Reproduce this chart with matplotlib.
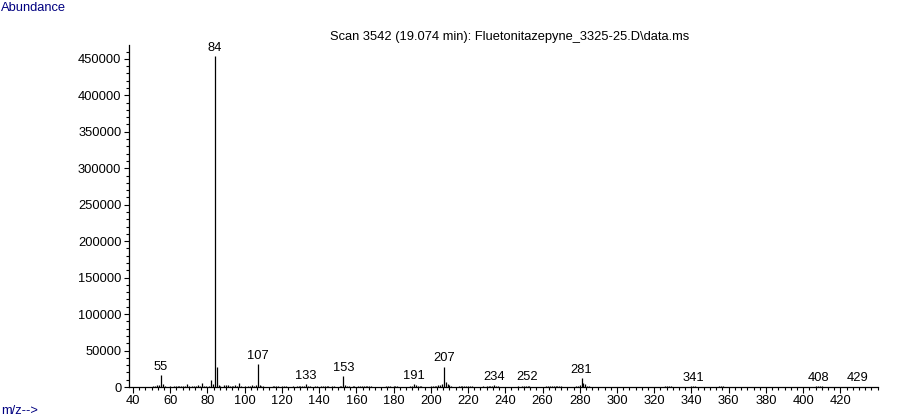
import numpy as np
from matplotlib import pyplot as plt
from matplotlib.ticker import MultipleLocator, FixedLocator

# mass spectrum (m/z, abundance)
mz = [51, 52, 53, 54, 55, 56, 57,
      60, 62, 63, 64, 65, 66, 67, 68, 69, 70, 72, 73, 74, 75, 76, 77, 78, 79,
      81, 82, 83, 84, 85, 86, 87, 89, 90, 91, 92, 93, 94, 95, 96, 97, 98,
      100, 102, 103, 104, 105, 106, 107, 108, 109, 110,
      115, 116, 117, 118, 120, 121, 122, 126, 128, 129, 130, 131, 132, 133, 134, 135,
      138, 139, 141, 142, 143, 144, 145, 147, 148, 151, 152, 153, 154, 155, 156,
      158, 159, 161, 162, 163, 164, 165, 166, 167, 168,
      176, 177, 178, 180, 181, 182, 189, 190, 191, 192, 193, 194, 195,
      200, 201, 202, 203, 204, 205, 206, 207, 208, 209, 210, 211,
      215, 216, 217, 218, 219, 220, 221, 222, 228, 230, 231, 232, 233, 234, 235, 236,
      247, 249, 250, 251, 252, 253, 262, 263, 264, 265, 266, 267, 268, 269, 270,
      278, 279, 280, 281, 282, 283, 284, 285,
      326, 327, 328, 329, 340, 341, 342, 355, 356, 357,
      407, 408, 409, 410, 429]
abundance = [1500, 2000, 2500, 3000, 16000, 4500, 1500,
             1000, 2000, 2000, 1500, 2000, 1500, 2000, 1500, 3500, 1500, 1000, 1000, 1500, 3000, 1500, 5500, 2000, 1500,
             2000, 10000, 4000, 454000, 27000, 2500, 1500, 3000, 3000, 2500, 2000, 1500, 2000, 2500, 2000, 6000, 1500,
             1000, 1500, 2000, 2500, 2000, 3000, 31000, 3000, 1000, 1000,
             1000, 1200, 1500, 1000, 1000, 1500, 1000, 1000, 1500, 1500, 1500, 2000, 1500, 4000, 1500, 1000,
             1000, 1200, 1500, 1500, 1000, 1500, 1200, 1500, 1000, 1500, 2000, 15500, 2500, 1500, 1000,
             1000, 1200, 1500, 1200, 1500, 1000, 1500, 1200, 1000, 1200,
             1000, 1500, 1200, 1000, 1500, 1000, 1500, 1500, 4500, 3000, 1500, 1500, 1000,
             1000, 1200, 1500, 1500, 2500, 3000, 4000, 28000, 7000, 4000, 2500, 1500,
             1000, 1000, 1500, 1000, 1500, 2000, 1500, 1200, 1000, 1500, 1200, 1500, 2000, 2500, 2000, 1000,
             1000, 1500, 1500, 1200, 2000, 1000, 1000, 1200, 1500, 1500, 1500, 1200, 1000, 1500, 1000,
             1000, 1500, 2500, 12000, 6000, 3500, 1500, 1000,
             1200, 1500, 1500, 1000, 1200, 1800, 1200, 1000, 1500, 1000,
             1000, 1500, 1000, 1200, 600]
labelled = [55, 84, 107, 133, 153, 191, 207, 234, 252, 281, 341, 408, 429]

title = r"Scan 3542 (19.074 min): Fluetonitazepyne_3325-25.D\data.ms"

plt.rcParams['font.family'] = ['Liberation Sans', 'DejaVu Sans']
navy = '#000080'

fig = plt.figure(figsize=(9, 4.2), dpi=100)
ax = fig.add_axes([129/900, 1 - 387/420, (878 - 129)/900, (387 - 45)/420])

ax.vlines(mz, 0, abundance, color='black', linewidth=0.9)

lookup = dict(zip(mz, abundance))
for m in labelled:
    ax.annotate(str(m), (m, lookup[m]), xytext=(0, 1.5), textcoords='offset points',
                ha='center', va='bottom', fontsize=9.3)

ax.set_xlim(37.9, 440.2)
ax.set_ylim(0, 469000)

ax.xaxis.set_major_locator(FixedLocator(np.arange(40, 421, 20)))
ax.xaxis.set_minor_locator(MultipleLocator(20/6))
ax.yaxis.set_major_locator(MultipleLocator(50000))
ax.yaxis.set_minor_locator(MultipleLocator(10000))
ax.yaxis.set_major_formatter(plt.FuncFormatter(lambda v, p: f"{int(v)}"))

ax.tick_params(axis='both', which='major', labelsize=9.3, width=0.8, color='black', pad=2)
ax.tick_params(axis='x', which='major', length=4)
ax.tick_params(axis='x', which='minor', length=2.2, width=0.8)
ax.tick_params(axis='y', which='major', length=3.5)
ax.tick_params(axis='y', which='minor', length=2.2, width=0.8)

for side in ['top', 'right']:
    ax.spines[side].set_visible(False)
for side in ['left', 'bottom']:
    ax.spines[side].set_linewidth(0.9)

fig.text(510/900, 1 - 37/420, title, ha='center', va='center', fontsize=9.3)
fig.text(1/900, 1 - 8/420, "Abundance", ha='left', va='center', fontsize=9.3, color=navy)
fig.text(1/900, 1 - 411/420, "m/z-->", ha='left', va='center', fontsize=9.3, color=navy)

fig.savefig('out.png', dpi=100)
